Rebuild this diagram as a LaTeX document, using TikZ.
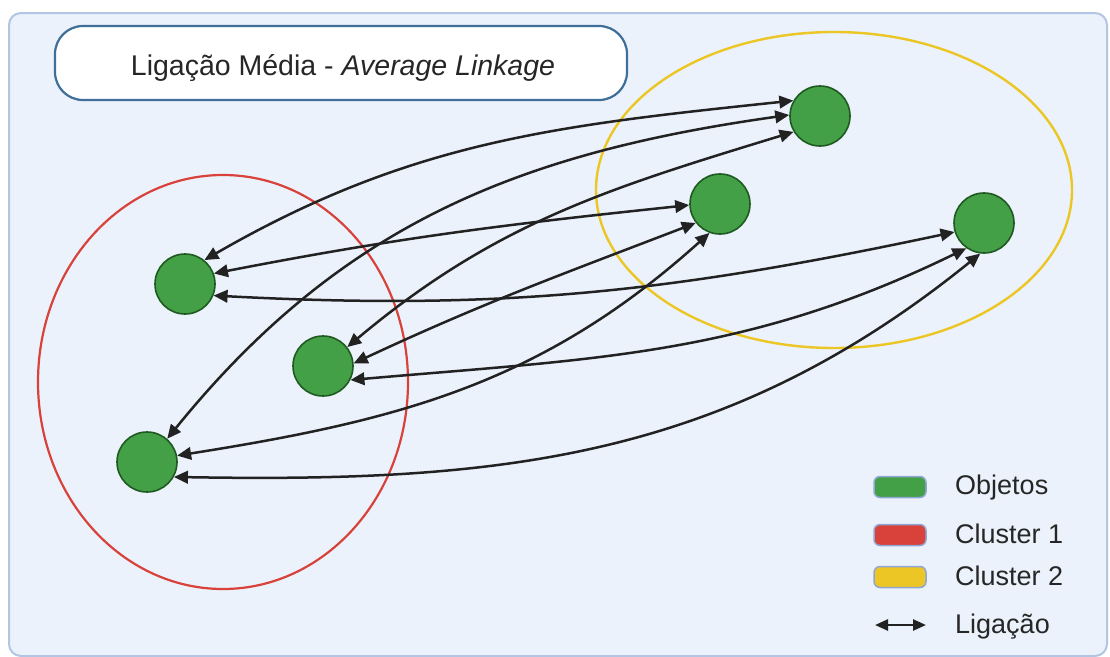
\documentclass[tikz,border=0pt]{standalone}
\usepackage{fontspec}
\setmainfont{Liberation Sans}
\usetikzlibrary{arrows.meta}
\definecolor{bgfill}{HTML}{EBF2FB}
\definecolor{bgline}{HTML}{B2C6E4}
\definecolor{titleline}{HTML}{3F6F98}
\definecolor{objgreen}{HTML}{43A047}
\definecolor{objline}{HTML}{1F5A21}
\definecolor{clred}{HTML}{D8423B}
\definecolor{clyellow}{HTML}{ECC624}
\definecolor{legline}{HTML}{8FA6D6}
\definecolor{arrowcol}{HTML}{222222}
\tikzset{
  obj/.style={circle, minimum size=60pt, inner sep=0pt, fill=objgreen, draw=objline, line width=1.6pt},
  link/.style={draw=arrowcol, line width=2.5pt, {Triangle[length=14pt,width=12.5pt]}-{Triangle[length=14pt,width=12.5pt]}},
  legbox/.style={rounded corners=6pt, draw=legline, line width=1.5pt, minimum width=52pt, minimum height=21pt, inner sep=0pt},
  legtext/.style={anchor=base west, inner sep=0pt, font=\fontsize{27}{30}\selectfont, text=black!85},
}
\begin{document}
\begin{tikzpicture}[x=1pt,y=1pt]
\useasboundingbox (0,0) rectangle (1110,-656);
\fill[white] (0,0) rectangle (1110,-656);
\draw[fill=bgfill, draw=bgline, line width=2pt, rounded corners=12pt] (9,-13) rectangle (1107,-656);
% title
\node[draw=titleline, line width=2.2pt, fill=white, rounded corners=28pt, minimum width=572pt, minimum height=74pt, inner sep=0pt] (title) at (341,-63) {};
\node[inner sep=0pt, anchor=base, font=\fontsize{28.5}{32}\selectfont, text=black!85] (titletext) at (343,-75) {Ligação Média - \textit{Average Linkage}};
% clusters
\draw[clred, line width=2.2pt] (223,-382) ellipse [x radius=185pt, y radius=207pt];
\draw[clyellow, line width=2.4pt] (834,-190) ellipse [x radius=238pt, y radius=158pt];
% objects
\node[obj] (A) at (185,-284) {};
\node[obj] (B) at (323,-366) {};
\node[obj] (C) at (147,-462) {};
\node[obj] (D) at (820,-116) {};
\node[obj] (E) at (720,-204) {};
\node[obj] (F) at (984,-223) {};
% links
\draw[link] (A.51) to[out=30,in=186] (D.150);
\draw[link] (A.20) to[out=11,in=186] (E.182);
\draw[link] (A.338) to[out=-3,in=192] (F.197);
\draw[link] (B.38) to[out=40,in=197] (D.211);
\draw[link] (B.5) to[out=25,in=201] (E.218);
\draw[link] (B.333) to[out=5,in=206] (F.235);
\draw[link] (C.49) to[out=51,in=188] (D.178);
\draw[link] (C.12) to[out=9,in=222] (E.250);
\draw[link] (C.331) to[out=-1,in=219] (F.263);
% legend
\node[legbox, fill=objgreen] (l1) at (900,-487) {};
\node[legbox, fill=clred] (l2) at (900,-535) {};
\node[legbox, fill=clyellow] (l3) at (900,-577) {};
\coordinate (la) at (875,-625);
\coordinate (lb) at (926,-625);
\draw[draw=arrowcol, line width=2.5pt, {Triangle[length=13pt,width=11pt]}-{Triangle[length=13pt,width=11pt]}] (la) -- (lb);
\node[legtext] (t1) at (955,-494) {Objetos};
\node[legtext] (t2) at (955,-543) {Cluster 1};
\node[legtext] (t3) at (955,-585) {Cluster 2};
\node[legtext] (t4) at (955,-633) {Ligação};
\end{tikzpicture}
\end{document}
